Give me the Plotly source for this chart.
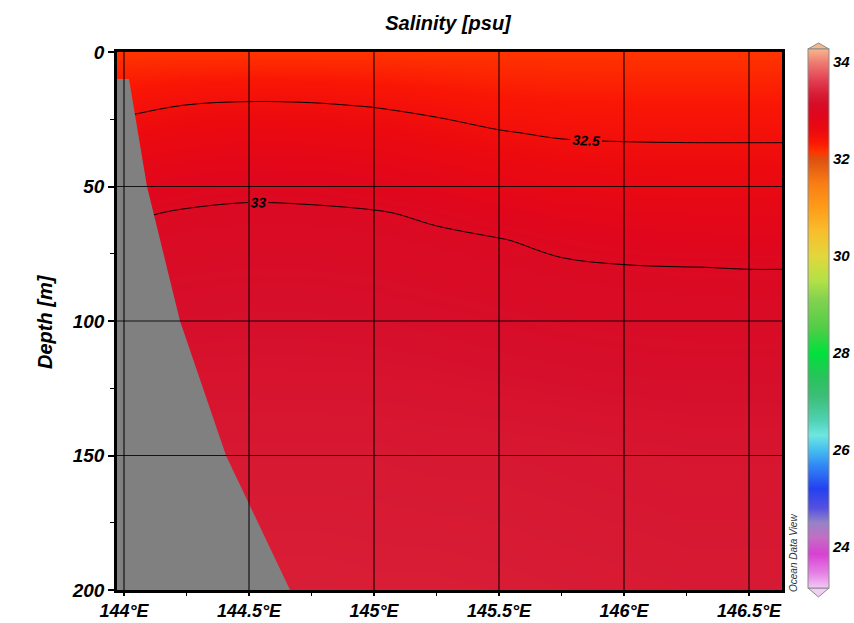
import plotly.graph_objects as go

# ---------------- data ----------------
title_text = "Salinity [psu]"
y_title = "Depth [m]"

lon = [143.97, 144.25, 144.5, 144.75, 145.0, 145.25, 145.5, 145.75, 146.0, 146.25, 146.5, 146.64]
depth = [0, 10, 20, 30, 40, 50, 60, 70, 80, 90, 100, 125, 150, 175, 200]

# salinity, one row per depth level, columns follow lon
sal_0 = [32.15, 32.15, 32.15, 32.15, 32.15, 32.15, 32.15, 32.15, 32.15, 32.15, 32.15, 32.15]
sal_10 = [32.293, 32.33, 32.344, 32.339, 32.321, 32.296, 32.271, 32.258, 32.254, 32.254, 32.254, 32.254]
sal_20 = [32.436, 32.507, 32.529, 32.521, 32.491, 32.442, 32.391, 32.365, 32.359, 32.357, 32.357, 32.357]
sal_30 = [32.573, 32.646, 32.672, 32.664, 32.632, 32.579, 32.513, 32.473, 32.463, 32.461, 32.461, 32.461]
sal_40 = [32.707, 32.785, 32.816, 32.807, 32.771, 32.711, 32.642, 32.591, 32.574, 32.567, 32.566, 32.566]
sal_50 = [32.84, 32.924, 32.96, 32.95, 32.91, 32.842, 32.771, 32.713, 32.688, 32.675, 32.674, 32.674]
sal_60 = [32.973, 33.017, 33.027, 33.024, 33.013, 32.974, 32.901, 32.835, 32.801, 32.783, 32.781, 32.781]
sal_70 = [33.03, 33.054, 33.065, 33.062, 33.051, 33.03, 33.009, 32.957, 32.915, 32.892, 32.889, 32.889]
sal_80 = [33.068, 33.092, 33.102, 33.099, 33.088, 33.068, 33.046, 33.024, 33.009, 33.001, 32.997, 32.997]
sal_90 = [33.105, 33.129, 33.14, 33.137, 33.126, 33.105, 33.084, 33.062, 33.047, 33.038, 33.036, 33.036]
sal_100 = [33.143, 33.161, 33.166, 33.165, 33.159, 33.143, 33.121, 33.099, 33.084, 33.075, 33.074, 33.074]
sal_125 = [33.212, 33.22, 33.223, 33.222, 33.219, 33.212, 33.199, 33.185, 33.173, 33.165, 33.164, 33.164]
sal_150 = [33.28, 33.28, 33.28, 33.28, 33.28, 33.27, 33.27, 33.26, 33.25, 33.24, 33.24, 33.24]
sal_175 = [33.315, 33.315, 33.315, 33.315, 33.31, 33.305, 33.3, 33.29, 33.28, 33.27, 33.27, 33.27]
sal_200 = [33.35, 33.35, 33.35, 33.35, 33.34, 33.34, 33.33, 33.32, 33.31, 33.30, 33.30, 33.30]

# sea-floor (bathymetry) outline
bath_lon = [144.02, 144.092, 144.224, 144.408, 144.664]
bath_depth = [10, 50, 100, 150, 200]

contour_levels = [32.5, 33.0]
x_ticks = [144.0, 144.5, 145.0, 145.5, 146.0, 146.5]
x_ticktext = ["144°E", "144.5°E", "145°E", "145.5°E", "146°E", "146.5°E"]
x_minor = [144.25, 144.75, 145.25, 145.75, 146.25]
y_ticks = [0, 50, 100, 150, 200]
y_minor = [25, 75, 125, 175]
cbar_ticks = [24, 26, 28, 30, 32, 34]

# ---------------- styling ----------------
XR = [143.972, 146.632]
YR = [200, 0]
CMIN, CMAX = 23.15, 34.27

stops = [
    (23.15, "rgb(242,200,245)"), (23.45, "rgb(230,130,230)"), (23.85, "rgb(215,65,210)"),
    (24.2, "rgb(195,110,195)"), (24.5, "rgb(150,130,200)"), (24.8, "rgb(85,80,225)"),
    (25.2, "rgb(35,65,240)"), (25.7, "rgb(50,140,245)"), (26.0, "rgb(70,190,240)"),
    (26.3, "rgb(110,230,225)"), (26.6, "rgb(80,210,180)"), (27.1, "rgb(60,190,120)"),
    (27.5, "rgb(40,195,90)"), (28.0, "rgb(0,225,60)"), (28.5, "rgb(80,205,70)"),
    (29.1, "rgb(130,210,80)"), (29.5, "rgb(180,225,70)"), (30.0, "rgb(225,215,60)"),
    (30.5, "rgb(248,190,45)"), (31.0, "rgb(255,155,25)"), (31.5, "rgb(248,125,20)"),
    (32.0, "rgb(222,80,15)"), (32.15, "rgb(255,52,0)"), (32.35, "rgb(250,22,5)"),
    (32.6, "rgb(236,10,15)"), (32.9, "rgb(224,6,28)"), (33.15, "rgb(214,14,42)"),
    (33.35, "rgb(216,30,54)"), (33.6, "rgb(225,60,80)"), (34.0, "rgb(238,125,115)"),
    (34.27, "rgb(248,182,140)"),
]
colorscale = [[(v - CMIN) / (CMAX - CMIN), c] for v, c in stops]

sal = [sal_0, sal_10, sal_20, sal_30, sal_40, sal_50, sal_60, sal_70, sal_80,
       sal_90, sal_100, sal_125, sal_150, sal_175, sal_200]

FONT = "Liberation Sans"
W, H = 854, 623
# plot area in page pixels: x 117..782, y 52..590
L, T = 117, 52
R, B = W - 782, H - 590
PW, PH = W - L - R, H - T - B


def px2paper_x(px):
    return (px - L) / PW


def px2paper_y(py):
    return (H - B - py) / PH


cb_left, cb_thick = 808, 21
cb_top, cb_bot = 49, 588

fig = go.Figure()

fig.add_trace(go.Heatmap(
    x=lon, y=depth, z=sal, zsmooth="best",
    colorscale=colorscale, zmin=CMIN, zmax=CMAX, hoverinfo="skip",
    colorbar=dict(
        x=px2paper_x(cb_left), xanchor="left", xpad=0,
        thickness=cb_thick, thicknessmode="pixels",
        len=cb_bot - cb_top, lenmode="pixels",
        y=px2paper_y((cb_top + cb_bot) / 2), yanchor="middle", ypad=0,
        outlinewidth=1, outlinecolor="#8a8a8a",
        tickvals=cbar_ticks, ticks="",
        tickfont=dict(family=FONT, size=15, color="black", weight="bold", style="italic"),
    ),
))

fig.add_trace(go.Contour(
    x=lon, y=depth, z=sal, showscale=False, hoverinfo="skip",
    autocontour=False,
    contours=dict(coloring="none", start=contour_levels[0], end=contour_levels[-1],
                  size=contour_levels[1] - contour_levels[0], showlabels=True,
                  labelfont=dict(family=FONT, size=14, color="black", weight="bold", style="italic")),
    line=dict(color="black", width=1),
))

fig.add_trace(go.Scatter(
    x=[XR[0]] + bath_lon + [XR[0]],
    y=[bath_depth[0]] + bath_depth + [bath_depth[-1]],
    fill="toself", fillcolor="rgb(128,128,128)", mode="lines",
    line=dict(width=0, color="rgb(128,128,128)"), hoverinfo="skip", showlegend=False,
))

shapes = []
for xv in x_ticks:
    shapes.append(dict(type="line", xref="x", yref="y", x0=xv, x1=xv, y0=YR[0], y1=YR[1],
                       line=dict(color="rgba(0,0,0,0.85)", width=1.2), layer="above"))
for yv in y_ticks[1:-1]:
    shapes.append(dict(type="line", xref="x", yref="y", x0=XR[0], x1=XR[1], y0=yv, y1=yv,
                       line=dict(color="rgba(0,0,0,0.85)", width=1.2), layer="above"))

# pointed ends of the colour bar
xl, xm, xr = px2paper_x(cb_left), px2paper_x(cb_left + cb_thick / 2), px2paper_x(cb_left + cb_thick)
yt, ytt = px2paper_y(cb_top), px2paper_y(cb_top - 6)
yb, ybb = px2paper_y(cb_bot), px2paper_y(cb_bot + 9)
shapes.append(dict(type="path", xref="paper", yref="paper",
                   path=f"M {xl},{yt} L {xm},{ytt} L {xr},{yt} Z",
                   fillcolor="rgb(248,182,140)", line=dict(color="#8a8a8a", width=1)))
shapes.append(dict(type="path", xref="paper", yref="paper",
                   path=f"M {xl},{yb} L {xm},{ybb} L {xr},{yb} Z",
                   fillcolor="rgb(242,205,246)", line=dict(color="#8a8a8a", width=1)))

xtickfont = dict(family=FONT, size=18, color="black", weight="bold", style="italic")
ytickfont = dict(family=FONT, size=19, color="black", weight="bold", style="italic")

fig.update_layout(
    width=W, height=H,
    margin=dict(l=L, r=R, t=T, b=B, pad=0, autoexpand=False),
    paper_bgcolor="white", plot_bgcolor="white",
    showlegend=False,
    title=dict(text=title_text, x=px2paper_x(448), xref="paper", xanchor="center",
               y=1 - 23 / H, yref="container", yanchor="middle",
               font=dict(family=FONT, size=20, color="black", weight="bold", style="italic")),
    xaxis=dict(range=XR, tickvals=x_ticks, ticktext=x_ticktext, ticks="outside",
               ticklen=3, tickwidth=1.5, tickcolor="black", tickfont=xtickfont,
               showline=True, linewidth=2.5, linecolor="black", mirror=True,
               showgrid=False, zeroline=False,
               minor=dict(tickvals=x_minor, ticks="outside", ticklen=3, tickcolor="black",
                          tickwidth=1, showgrid=False)),
    yaxis=dict(range=YR, tickvals=y_ticks, ticks="outside", ticklen=6, tickwidth=1.5,
               tickcolor="black", tickfont=ytickfont,
               showline=True, linewidth=2.5, linecolor="black", mirror=True,
               showgrid=False, zeroline=False,
               minor=dict(tickvals=y_minor, ticks="outside", ticklen=4, tickcolor="black",
                          tickwidth=1, showgrid=False)),
    shapes=shapes,
    annotations=[
        dict(text=y_title, xref="paper", yref="paper", x=px2paper_x(45), y=px2paper_y(322),
             showarrow=False, textangle=-90, xanchor="center", yanchor="middle",
             font=dict(family=FONT, size=20, color="black", weight="bold", style="italic")),
        dict(text="Ocean Data View", xref="paper", yref="paper", x=px2paper_x(793),
             y=px2paper_y(553), showarrow=False, textangle=-90, xanchor="center",
             yanchor="middle",
             font=dict(family=FONT, size=10, color="#333333", style="italic")),
    ],
)

# remove the browser's default page margin so the figure fills the window exactly
page_fix = ("document.body.style.margin='0';"
            "document.documentElement.style.overflow='hidden';"
            "document.body.style.overflow='hidden';")

fig.write_html("out.html", post_script=page_fix, config={"displayModeBar": False})
